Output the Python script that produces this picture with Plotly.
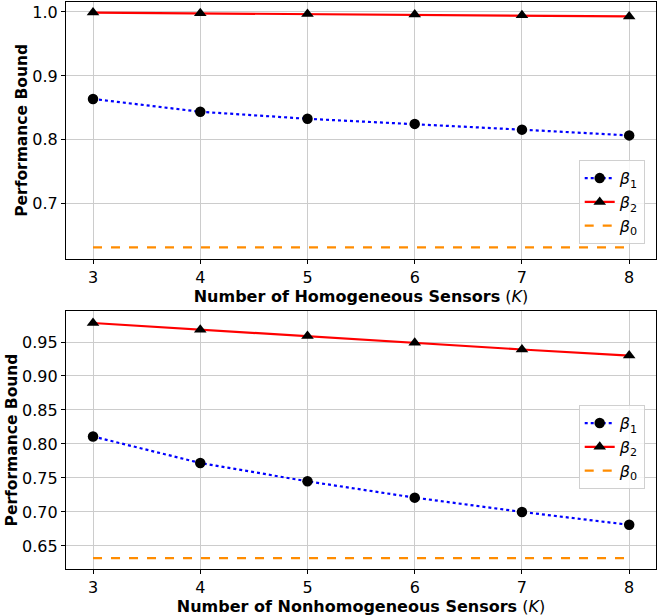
import plotly.graph_objects as go
from plotly.subplots import make_subplots

K = [3, 4, 5, 6, 7, 8]
top_beta1 = [0.864, 0.844, 0.833, 0.825, 0.816, 0.807]
top_beta2 = [0.999, 0.998, 0.997, 0.996, 0.995, 0.993]
bot_beta1 = [0.811, 0.772, 0.745, 0.721, 0.700, 0.681]
bot_beta2 = [0.978, 0.968, 0.959, 0.949, 0.939, 0.930]
beta0 = 0.632

top_yticks = [0.7, 0.8, 0.9, 1.0]
bot_yticks = [0.65, 0.70, 0.75, 0.80, 0.85, 0.90, 0.95]

fig = make_subplots(rows=2, cols=1, vertical_spacing=0.09)

def add_panel(row, b1, b2, legend):
    fig.add_trace(go.Scatter(x=K, y=b1, mode="lines+markers", name="<i>β</i><sub>1</sub>",
                             line=dict(color="blue", width=2.2, dash="dot"),
                             marker=dict(color="black", size=10.5, symbol="circle"),
                             legend=legend), row=row, col=1)
    fig.add_trace(go.Scatter(x=K, y=b2, mode="lines+markers", name="<i>β</i><sub>2</sub>",
                             line=dict(color="red", width=2.2),
                             marker=dict(color="black", size=11, symbol="triangle-up"),
                             legend=legend), row=row, col=1)
    fig.add_trace(go.Scatter(x=K, y=[beta0] * len(K), mode="lines", name="<i>β</i><sub>0</sub>",
                             line=dict(color="darkorange", width=2.2, dash="dash"),
                             legend=legend), row=row, col=1)

add_panel(1, top_beta1, top_beta2, "legend")
add_panel(2, bot_beta1, bot_beta2, "legend2")

axis_common = dict(showline=True, linecolor="black", linewidth=1.2, mirror=True,
                   showgrid=True, gridcolor="#cccccc", gridwidth=1,
                   ticks="outside", tickcolor="black", ticklen=4,
                   tickfont=dict(family="DejaVu Sans", size=16, color="black"), zeroline=False)

xt_font = dict(family="DejaVu Sans", size=16, color="black")
yt_font = dict(family="DejaVu Sans", size=15.5, color="black")
fig.update_xaxes(**axis_common, range=[2.748, 8.25], tickvals=K)
fig.update_xaxes(title=dict(text="<b>Number of Homogeneous Sensors</b> (<i>K</i>)", font=xt_font, standoff=2), row=1, col=1)
fig.update_xaxes(title=dict(text="<b>Number of Nonhomogeneous Sensors</b> (<i>K</i>)", font=xt_font, standoff=2), row=2, col=1)
fig.update_yaxes(**axis_common)
fig.update_yaxes(range=[0.614, 1.0156], tickvals=top_yticks, ticktext=["0.7", "0.8", "0.9", "1.0"],
                 title=dict(text="<b>Performance Bound</b>", font=yt_font, standoff=0), row=1, col=1)
fig.update_yaxes(range=[0.616, 0.9956], tickvals=bot_yticks, ticktext=[f"{v:.2f}" for v in bot_yticks],
                 title=dict(text="<b>Performance Bound</b>", font=yt_font, standoff=0), row=2, col=1)

fig.update_layout(xaxis=dict(domain=[0, 1]), yaxis=dict(domain=[0.547, 1.0]),
                  yaxis2=dict(domain=[0.0, 0.455]))

leg_common = dict(bgcolor="rgba(255,255,255,0.8)", bordercolor="#d0d0d0", borderwidth=1,
                  font=dict(family="DejaVu Sans", size=16, color="black"),
                  xanchor="left", yanchor="top", x=0.869, tracegroupgap=0, itemwidth=30)
fig.update_layout(
    width=665, height=616,
    margin=dict(l=66, r=9, t=2, b=47),
    paper_bgcolor="white", plot_bgcolor="white",
    legend=dict(**leg_common, y=0.721),
    legend2=dict(**leg_common, y=0.289),
    showlegend=True,
)

fig.write_html("out.html", config={"displayModeBar": False},
               post_script="document.body.style.margin='0';document.body.style.overflow='hidden';")
